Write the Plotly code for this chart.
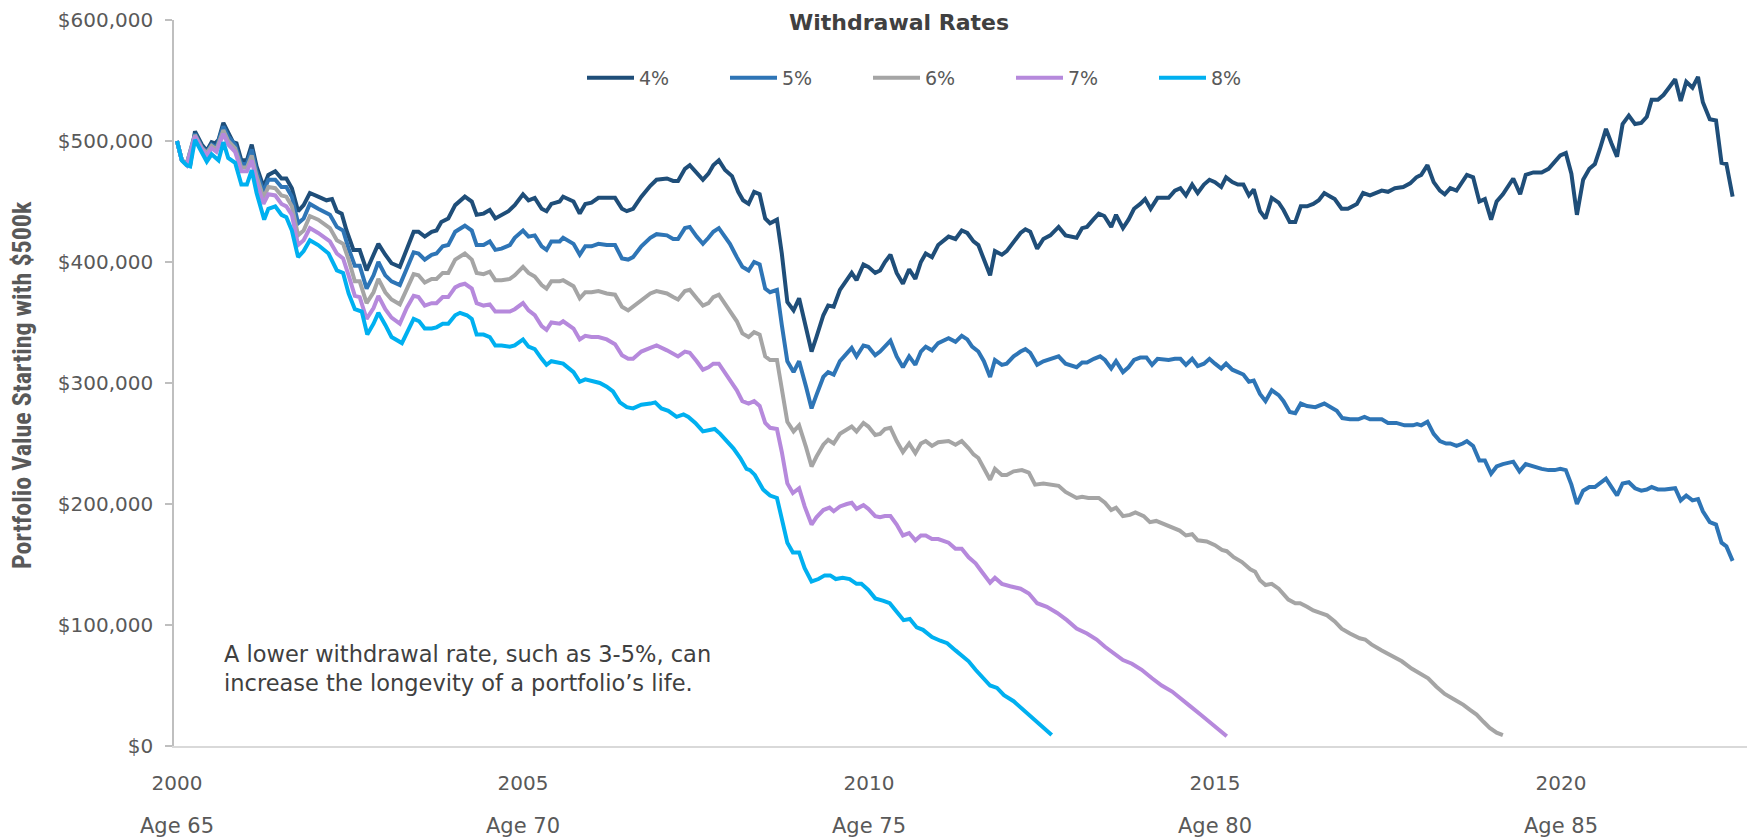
import plotly.graph_objects as go

# ---------------- data (x = decimal year, values in $ thousands) ----------------
series_names = ["4%", "5%", "6%", "7%", "8%"]
series_colors = ["#1F4E79", "#2E75B6", "#A5A5A5", "#B689DC", "#00B0F0"]

x_4 = [2000.00,2000.07,2000.14,2000.19,2000.26,2000.36,2000.43,2000.50,2000.55,2000.60,2000.67,2000.74,2000.81,2000.86,2000.93,
       2001.01,2001.08,2001.15,2001.25,2001.32,2001.42,2001.51,2001.58,2001.66,2001.75,2001.83,2001.92,2002.04,2002.16,2002.24,
       2002.31,2002.38,2002.45,2002.55,2002.64,2002.74,2002.84,2002.91,2003.01,2003.10,2003.22,2003.32,2003.42,2003.49,2003.58,
       2003.68,2003.75,2003.82,2003.92,2004.02,2004.09,2004.16,2004.26,2004.33,2004.43,2004.52,2004.60,2004.69,2004.79,2004.88,
       2005.00,2005.08,2005.17,2005.27,2005.34,2005.41,2005.53,2005.58,2005.73,2005.82,2005.90,2005.99,2006.09,2006.21,2006.33,
       2006.43,2006.50,2006.59,2006.71,2006.84,2006.93,2007.08,2007.17,2007.24,2007.34,2007.41,2007.51,2007.60,2007.68,2007.75,
       2007.83,2007.92,2008.02,2008.11,2008.18,2008.26,2008.34,2008.42,2008.50,2008.57,2008.67,2008.74,2008.82,2008.91,2008.99,
       2009.09,2009.17,2009.24,2009.34,2009.41,2009.49,2009.58,2009.68,2009.75,2009.82,2009.92,2009.99,2010.09,2010.16,2010.23,
       2010.31,2010.40,2010.49,2010.58,2010.67,2010.75,2010.82,2010.91,2011.00,2011.15,2011.25,2011.34,2011.42,2011.51,2011.58,
       2011.66,2011.75,2011.82,2011.92,2011.99,2012.09,2012.19,2012.26,2012.33,2012.43,2012.52,2012.62,2012.74,2012.84,2013.00,
       2013.08,2013.15,2013.24,2013.32,2013.40,2013.50,2013.57,2013.67,2013.75,2013.83,2013.92,2013.99,2014.07,2014.17,2014.33,
       2014.42,2014.50,2014.58,2014.67,2014.75,2014.84,2014.92,2015.00,2015.09,2015.16,2015.25,2015.33,2015.41,2015.49,2015.56,
       2015.65,2015.73,2015.82,2015.92,2015.99,2016.08,2016.16,2016.24,2016.33,2016.42,2016.50,2016.58,2016.67,2016.73,2016.83,
       2016.92,2017.05,2017.14,2017.24,2017.41,2017.50,2017.60,2017.72,2017.82,2017.91,2017.98,2018.07,2018.16,2018.25,2018.32,
       2018.40,2018.49,2018.64,2018.73,2018.82,2018.90,2018.99,2019.07,2019.16,2019.31,2019.41,2019.49,2019.60,2019.72,2019.82,
       2019.91,2019.99,2020.07,2020.15,2020.23,2020.32,2020.41,2020.49,2020.56,2020.65,2020.73,2020.81,2020.89,2020.98,2021.07,
       2021.16,2021.24,2021.31,2021.40,2021.48,2021.56,2021.65,2021.73,2021.81,2021.90,2021.98,2022.05,2022.15,2022.24,2022.32,
       2022.39,2022.48]
v_4 = [500,484,481,480,508,497,492,499,498,501,515,506,499,498,484,
       484,497,479,462,472,475,469,469,461,442,447,457,454,451,452,
       442,440,426,410,410,393,406,415,406,399,396,411,425,425,421,
       425,426,433,436,447,450,454,450,439,440,443,436,439,442,447,
       456,451,453,444,442,448,450,454,450,440,448,449,453,453,453,
       444,442,444,454,463,468,469,467,467,477,480,473,468,473,480,
       484,476,471,458,451,448,458,456,436,432,435,407,367,360,370,
       347,326,338,356,364,363,377,385,391,385,398,396,391,393,400,
       406,391,382,394,386,400,407,404,414,421,419,426,424,417,414,
       403,389,409,406,409,417,424,427,425,411,419,422,429,422,420,
       428,429,435,440,438,429,439,428,435,444,448,452,444,453,453,
       459,461,455,464,457,464,468,466,462,470,466,464,464,455,460,
       442,436,453,449,443,433,433,446,446,448,451,457,454,452,444,
       444,448,457,455,459,458,461,462,465,470,472,480,466,459,456,
       461,459,472,470,450,452,435,450,456,469,456,472,474,474,477,
       483,488,490,473,439,468,477,481,493,510,498,487,514,521,514,
       515,520,534,534,538,544,551,533,549,544,553,532,518,517,482,
       481,454]

x_5 = [2000.00,2000.07,2000.14,2000.26,2000.36,2000.43,2000.50,2000.57,2000.67,2000.74,2000.84,2000.93,2001.01,2001.08,2001.15,
       2001.25,2001.32,2001.42,2001.51,2001.58,2001.66,2001.75,2001.83,2001.92,2002.04,2002.21,2002.31,2002.40,2002.48,2002.57,
       2002.64,2002.74,2002.84,2002.91,2003.01,2003.10,2003.22,2003.32,2003.42,2003.49,2003.58,2003.68,2003.75,2003.84,2003.92,
       2004.02,2004.09,2004.16,2004.26,2004.33,2004.43,2004.52,2004.60,2004.69,2004.81,2004.88,2005.00,2005.08,2005.17,2005.27,
       2005.34,2005.41,2005.53,2005.58,2005.73,2005.82,2005.90,2005.99,2006.09,2006.21,2006.33,2006.43,2006.52,2006.59,2006.71,
       2006.84,2006.93,2007.08,2007.17,2007.24,2007.34,2007.41,2007.51,2007.60,2007.68,2007.75,2007.83,2007.92,2007.99,2008.09,
       2008.17,2008.26,2008.34,2008.42,2008.50,2008.57,2008.67,2008.74,2008.82,2008.91,2008.99,2009.09,2009.17,2009.24,2009.34,
       2009.41,2009.49,2009.58,2009.68,2009.75,2009.82,2009.92,2009.99,2010.09,2010.16,2010.23,2010.31,2010.40,2010.49,2010.58,
       2010.67,2010.75,2010.82,2010.91,2011.00,2011.15,2011.25,2011.34,2011.42,2011.49,2011.58,2011.66,2011.75,2011.82,2011.92,
       2011.99,2012.09,2012.19,2012.26,2012.33,2012.43,2012.52,2012.62,2012.74,2012.84,2013.00,2013.08,2013.15,2013.25,2013.34,
       2013.41,2013.50,2013.57,2013.67,2013.75,2013.83,2013.92,2014.01,2014.09,2014.17,2014.33,2014.42,2014.50,2014.58,2014.67,
       2014.75,2014.84,2014.92,2015.00,2015.09,2015.16,2015.25,2015.33,2015.41,2015.49,2015.56,2015.65,2015.73,2015.82,2015.92,
       2015.99,2016.08,2016.16,2016.24,2016.33,2016.45,2016.58,2016.66,2016.76,2016.84,2016.95,2017.07,2017.16,2017.24,2017.41,
       2017.50,2017.62,2017.74,2017.86,2017.92,2017.98,2018.07,2018.16,2018.25,2018.34,2018.40,2018.49,2018.58,2018.64,2018.73,
       2018.82,2018.90,2018.99,2019.07,2019.16,2019.31,2019.40,2019.49,2019.60,2019.72,2019.82,2019.91,2019.99,2020.07,2020.15,
       2020.23,2020.32,2020.41,2020.49,2020.56,2020.65,2020.73,2020.81,2020.89,2020.98,2021.07,2021.16,2021.24,2021.31,2021.40,
       2021.50,2021.65,2021.73,2021.81,2021.90,2021.98,2022.05,2022.15,2022.24,2022.32,2022.39,2022.48]
v_5 = [500,484,481,506,495,491,497,495,512,504,497,481,481,493,475,
       458,468,468,462,462,454,432,436,448,444,439,429,426,411,397,
       397,378,389,400,389,384,381,395,408,407,402,406,407,413,414,
       425,428,430,426,414,414,417,410,411,414,420,426,421,422,413,
       410,417,417,420,415,406,413,413,415,414,414,403,402,404,413,
       420,423,422,419,419,428,429,421,415,420,425,428,421,415,404,
       396,393,400,398,378,375,377,348,318,309,318,297,279,290,305,
       309,307,318,324,329,322,331,330,323,326,330,335,322,313,322,
       315,326,330,327,333,337,334,339,336,330,326,318,305,319,315,
       316,322,326,328,325,315,318,320,322,316,313,317,317,320,322,
       319,312,318,309,313,319,321,321,315,320,319,320,320,315,320,
       314,316,320,316,312,316,311,309,307,301,302,291,285,294,290,
       285,276,275,283,281,280,283,280,277,271,270,270,272,270,270,
       267,267,265,265,266,265,268,258,252,250,250,248,250,252,248,
       236,236,225,231,233,235,227,233,231,229,228,228,229,228,216,
       200,211,214,214,217,221,214,207,217,218,213,211,212,214,212,
       212,213,203,207,203,204,194,185,183,168,165,153]

x_6 = [2000.00,2000.07,2000.14,2000.26,2000.36,2000.43,2000.50,2000.57,2000.67,2000.74,2000.84,2000.93,2001.01,2001.08,2001.15,
       2001.25,2001.32,2001.42,2001.51,2001.58,2001.66,2001.75,2001.83,2001.92,2002.04,2002.21,2002.31,2002.40,2002.48,2002.57,
       2002.64,2002.74,2002.84,2002.91,2003.01,2003.10,2003.22,2003.32,2003.42,2003.49,2003.58,2003.68,2003.75,2003.84,2003.92,
       2004.02,2004.09,2004.16,2004.26,2004.33,2004.43,2004.52,2004.60,2004.69,2004.81,2004.88,2005.00,2005.08,2005.17,2005.27,
       2005.34,2005.41,2005.53,2005.58,2005.73,2005.82,2005.90,2005.99,2006.09,2006.21,2006.33,2006.43,2006.52,2006.59,2006.71,
       2006.84,2006.93,2007.08,2007.17,2007.24,2007.34,2007.41,2007.51,2007.60,2007.68,2007.75,2007.83,2007.92,2007.99,2008.09,
       2008.17,2008.26,2008.34,2008.42,2008.50,2008.57,2008.67,2008.74,2008.82,2008.91,2008.99,2009.09,2009.17,2009.24,2009.34,
       2009.41,2009.49,2009.58,2009.68,2009.75,2009.82,2009.92,2009.99,2010.09,2010.16,2010.23,2010.31,2010.40,2010.49,2010.58,
       2010.67,2010.75,2010.82,2010.91,2011.00,2011.15,2011.25,2011.34,2011.44,2011.51,2011.58,2011.66,2011.75,2011.82,2011.92,
       2011.99,2012.09,2012.21,2012.31,2012.40,2012.52,2012.74,2012.84,2013.00,2013.08,2013.17,2013.32,2013.41,2013.50,2013.57,
       2013.67,2013.77,2013.85,2013.97,2014.06,2014.15,2014.27,2014.38,2014.49,2014.58,2014.67,2014.75,2014.88,2015.00,2015.10,
       2015.17,2015.27,2015.39,2015.51,2015.58,2015.65,2015.73,2015.82,2015.92,2016.06,2016.16,2016.23,2016.33,2016.42,2016.52,
       2016.62,2016.73,2016.83,2016.95,2017.09,2017.17,2017.26,2017.41,2017.55,2017.70,2017.84,2017.98,2018.08,2018.20,2018.32,
       2018.47,2018.59,2018.68,2018.78,2018.88,2018.97,2019.07,2019.16]
v_6 = [500,484,481,505,494,490,496,493,509,500,494,478,478,488,471,
       453,462,461,455,454,446,422,426,438,435,428,418,415,402,384,
       384,366,375,386,375,369,365,377,390,389,383,386,386,391,391,
       402,405,407,402,391,390,392,385,385,386,389,396,391,388,381,
       378,384,384,385,380,370,375,375,376,374,373,363,360,363,369,
       374,376,374,371,369,376,377,370,364,366,371,373,365,360,351,
       341,338,342,340,322,319,319,297,268,260,265,247,231,239,249,
       253,250,258,261,264,260,267,264,257,258,262,263,252,243,250,
       242,250,252,248,251,252,249,252,246,241,238,230,220,229,224,
       224,227,228,226,216,217,215,210,205,206,205,205,201,195,197,
       190,191,193,190,185,186,183,181,178,174,175,170,169,166,162,
       161,156,152,146,144,137,133,134,130,121,118,118,115,112,110,
       108,103,97,93,89,88,84,79,75,70,64,59,56,49,43,
       38,34,30,26,20,15,11,9]

x_7 = [2000.00,2000.07,2000.14,2000.26,2000.36,2000.43,2000.50,2000.57,2000.67,2000.74,2000.84,2000.93,2001.01,2001.08,2001.15,
       2001.25,2001.32,2001.42,2001.51,2001.58,2001.66,2001.75,2001.83,2001.92,2002.04,2002.21,2002.31,2002.40,2002.48,2002.57,
       2002.64,2002.74,2002.84,2002.91,2003.01,2003.10,2003.22,2003.32,2003.42,2003.49,2003.58,2003.68,2003.75,2003.84,2003.92,
       2004.02,2004.09,2004.16,2004.26,2004.33,2004.43,2004.52,2004.60,2004.69,2004.81,2004.88,2005.00,2005.08,2005.17,2005.27,
       2005.34,2005.41,2005.53,2005.58,2005.73,2005.82,2005.90,2005.99,2006.09,2006.21,2006.33,2006.43,2006.52,2006.59,2006.71,
       2006.84,2006.93,2007.08,2007.17,2007.24,2007.34,2007.41,2007.51,2007.60,2007.68,2007.75,2007.83,2007.92,2007.99,2008.09,
       2008.17,2008.26,2008.34,2008.42,2008.50,2008.57,2008.67,2008.74,2008.82,2008.90,2008.99,2009.07,2009.17,2009.24,2009.34,
       2009.43,2009.49,2009.58,2009.68,2009.75,2009.82,2009.92,2009.99,2010.09,2010.16,2010.23,2010.31,2010.40,2010.49,2010.58,
       2010.67,2010.75,2010.82,2010.91,2011.00,2011.15,2011.25,2011.34,2011.44,2011.54,2011.63,2011.75,2011.82,2011.92,2012.04,
       2012.19,2012.31,2012.43,2012.57,2012.72,2012.86,2013.00,2013.15,2013.29,2013.41,2013.53,2013.67,2013.80,2013.94,2014.09,
       2014.23,2014.38,2014.50,2014.64,2014.79,2014.92,2015.05,2015.17]
v_7 = [500,484,480,504,493,488,494,491,506,497,491,475,475,484,466,
       448,456,455,448,446,439,414,418,428,424,417,407,403,389,372,
       371,353,362,372,361,354,349,362,372,371,364,366,366,371,371,
       379,381,382,378,366,364,365,359,359,359,361,366,360,356,347,
       344,350,349,351,345,336,339,338,338,336,332,323,320,320,326,
       329,331,327,324,322,326,325,318,311,313,316,316,308,303,294,
       285,283,285,281,267,263,262,243,217,209,213,198,183,189,195,
       197,194,198,200,201,196,199,196,190,189,190,190,183,174,176,
       170,174,174,171,171,168,163,163,156,151,144,135,139,134,132,
       130,126,118,115,110,104,97,93,88,82,77,71,68,63,56,
       50,45,39,33,26,20,14,8]

x_8 = [2000.00,2000.07,2000.14,2000.19,2000.26,2000.36,2000.43,2000.50,2000.60,2000.67,2000.74,2000.84,2000.93,2001.01,2001.08,
       2001.15,2001.26,2001.32,2001.42,2001.51,2001.58,2001.66,2001.75,2001.83,2001.92,2002.04,2002.19,2002.31,2002.40,2002.48,
       2002.57,2002.67,2002.75,2002.84,2002.91,2003.01,2003.10,2003.25,2003.33,2003.42,2003.50,2003.58,2003.68,2003.75,2003.84,
       2003.92,2004.02,2004.09,2004.19,2004.26,2004.33,2004.43,2004.52,2004.60,2004.69,2004.81,2004.88,2005.00,2005.08,2005.17,
       2005.27,2005.34,2005.41,2005.53,2005.58,2005.73,2005.82,2005.90,2006.02,2006.11,2006.21,2006.30,2006.40,2006.50,2006.59,
       2006.71,2006.84,2006.91,2007.00,2007.10,2007.22,2007.32,2007.39,2007.49,2007.60,2007.68,2007.77,2007.85,2007.94,2008.04,
       2008.14,2008.23,2008.28,2008.35,2008.47,2008.57,2008.67,2008.74,2008.82,2008.90,2008.99,2009.07,2009.17,2009.27,2009.36,
       2009.44,2009.52,2009.62,2009.72,2009.82,2009.89,2009.99,2010.09,2010.21,2010.30,2010.40,2010.50,2010.59,2010.69,2010.78,
       2010.91,2011.03,2011.13,2011.25,2011.34,2011.44,2011.54,2011.66,2011.75,2011.85,2011.95,2012.09,2012.23,2012.35,2012.48,
       2012.57,2012.64]
v_8 = [500,484,480,479,501,490,483,489,484,499,486,482,464,464,476,
       457,435,444,446,439,437,426,404,409,418,414,407,393,391,374,
       361,359,340,349,358,348,338,333,343,353,351,345,345,346,349,
       349,356,358,356,353,340,340,338,331,331,330,331,336,330,328,
       320,315,318,316,316,309,301,303,301,300,297,293,284,280,279,
       282,283,284,279,277,272,274,272,267,260,261,262,258,252,246,
       238,229,228,224,212,207,205,187,168,160,160,147,136,138,141,
       141,138,139,138,134,134,129,122,120,118,111,104,105,98,96,
       90,87,85,79,75,70,63,56,50,48,42,37,30,24,17,
       13,9]

series_x = [x_4, x_5, x_6, x_7, x_8]
series_v = [v_4, v_5, v_6, v_7, v_8]

tick_years = [2000, 2005, 2010, 2015, 2020]
tick_ages = ["Age 65", "Age 70", "Age 75", "Age 80", "Age 85"]
y_ticks = [0, 100000, 200000, 300000, 400000, 500000, 600000]

# ---------------- figure ----------------
W, H = 1752, 839
ML, MR, MT, MB = 174, 5, 20, 93
PW, PH = W - ML - MR, H - MT - MB

fig = go.Figure()
for name, col, xs, vs in zip(series_names, series_colors, series_x, series_v):
    fig.add_trace(go.Scatter(
        x=xs, y=[v * 1000 for v in vs], mode="lines", name=name,
        line=dict(color=col, width=4, shape="linear"),
    ))

TXT = "#595959"
BASE = "DejaVu Sans"

fig.update_layout(
    width=W, height=H,
    margin=dict(l=ML, r=MR, t=MT, b=MB),
    paper_bgcolor="white", plot_bgcolor="white",
    showlegend=True,
    legend=dict(
        orientation="h", x=(582 - ML) / PW, xanchor="left",
        y=(H - MB - 78) / PH, yanchor="middle",
        xref="paper", yref="paper",
        entrywidth=81, entrywidthmode="pixels", itemwidth=47,
        font=dict(family=BASE, size=19, color=TXT),
        bgcolor="rgba(0,0,0,0)", traceorder="normal",
    ),
    xaxis=dict(
        range=[2000 - 3 / 69.2, 2000 + (W - MR - 177) / 69.2],
        tickmode="array", tickvals=tick_years, ticktext=[str(t) for t in tick_years],
        showgrid=False, zeroline=False,
        showline=True, linecolor="#D9D9D9", linewidth=1.5,
        ticks="outside", ticklen=18, tickcolor="rgba(0,0,0,0)",
        tickfont=dict(family=BASE, size=20, color=TXT),
    ),
    yaxis=dict(
        range=[0, 600000],
        tickmode="array", tickvals=y_ticks, tickformat="$,.0f",
        showgrid=False, zeroline=False,
        showline=True, linecolor="#BFBFBF", linewidth=1.5,
        ticks="outside", ticklen=7, tickcolor="#BFBFBF", tickwidth=1.5,
        ticklabelstandoff=8,
        tickfont=dict(family=BASE, size=20, color=TXT),
    ),
)

annotations = []
for yr, age in zip(tick_years, tick_ages):
    annotations.append(dict(
        x=yr, xref="x", y=-(826 - (H - MB)) / PH, yref="paper",
        text=age, showarrow=False, xanchor="center", yanchor="middle",
        font=dict(family=BASE, size=21, color=TXT),
    ))
annotations.append(dict(
    x=(899 - ML) / PW, xref="paper", y=(H - MB - 22) / PH, yref="paper",
    text="<b>Withdrawal Rates</b>", showarrow=False, xanchor="center", yanchor="middle",
    font=dict(family="DejaVu Sans", size=22, color="#404040"),
))
annotations.append(dict(
    x=(22 - ML) / PW, xref="paper", y=(H - MB - 385) / PH, yref="paper",
    text="<b>Portfolio Value Starting with $500k</b>", textangle=-90, showarrow=False,
    xanchor="center", yanchor="middle",
    font=dict(family="Liberation Sans Narrow, Roboto Condensed, Roboto", size=26, color="#595959"),
))
annotations.append(dict(
    x=(222 - ML) / PW, xref="paper", y=(H - MB - 668) / PH, yref="paper",
    text="A lower withdrawal rate, such as 3-5%, can<br>increase the longevity of a portfolio\u2019s life.",
    showarrow=False, xanchor="left", yanchor="middle", align="left",
    font=dict(family=BASE, size=22.5, color="#404040"),
))
fig.update_layout(annotations=annotations)

fig.write_html("out.html", config={"displayModeBar": False},
               post_script="document.body.style.margin='0';")
